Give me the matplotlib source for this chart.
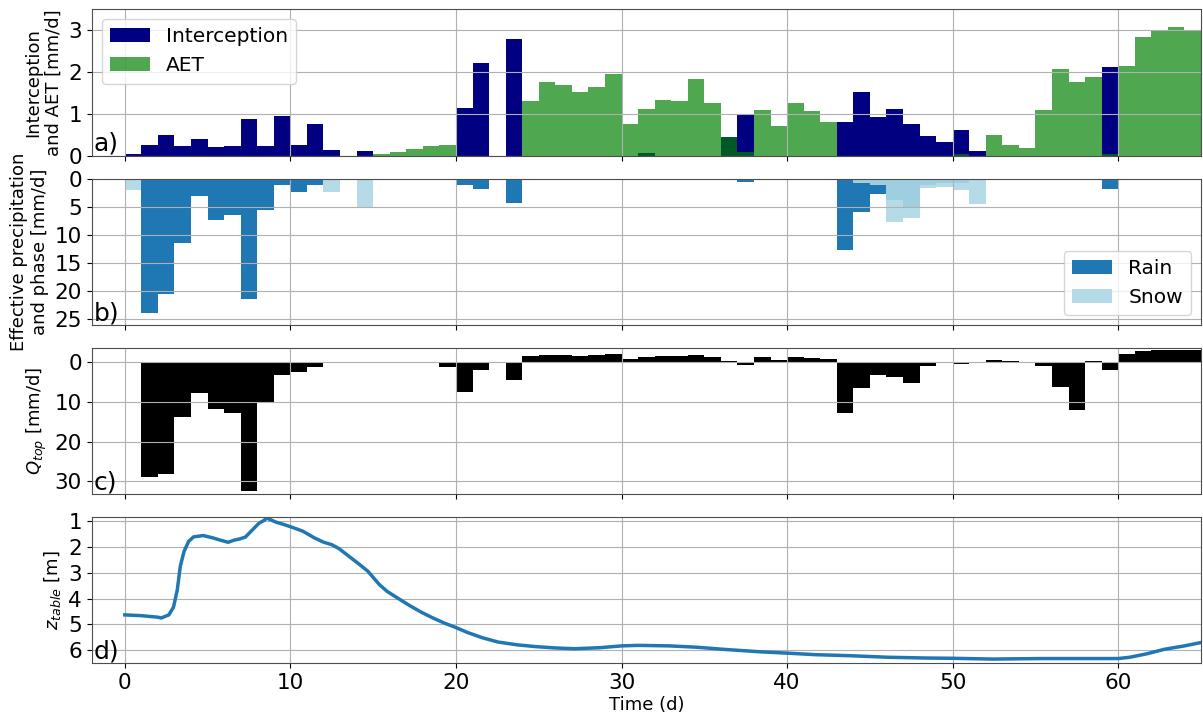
import numpy as np
import matplotlib
matplotlib.use("Agg")
import matplotlib.pyplot as plt

# daily values, day i covers [i, i+1)
days = np.arange(65)

interception = [0.05, 0.26, 0.49, 0.24, 0.41, 0.22, 0.23, 0.88, 0.23, 0.94,
                0.26, 0.77, 0.13, 0.0, 0.12, 0.0, 0.0, 0.0, 0.0, 0.0,
                1.14, 2.22, 0.0, 2.79, 0.0, 0.0, 0.0, 0.0, 0.0, 0.0,
                0.0, 0.06, 0.0, 0.0, 0.0, 0.0, 0.46, 1.0, 0.0, 0.0,
                0.0, 0.0, 0.0, 0.81, 1.52, 0.93, 1.12, 0.75, 0.47, 0.34,
                0.61, 0.12, 0.0, 0.0, 0.0, 0.0, 0.0, 0.0, 0.0, 2.13,
                0.0, 0.0, 0.0, 0.0, 0.0]

aet = [0.0, 0.0, 0.0, 0.0, 0.0, 0.0, 0.0, 0.0, 0.0, 0.0,
       0.0, 0.0, 0.0, 0.0, 0.0, 0.05, 0.08, 0.17, 0.24, 0.26,
       0.0, 0.0, 0.0, 0.0, 1.32, 1.77, 1.70, 1.53, 1.64, 1.95,
       0.77, 1.11, 1.34, 1.32, 1.83, 1.26, 0.44, 0.10, 1.09, 0.72,
       1.26, 1.07, 0.81, 0.0, 0.0, 0.0, 0.0, 0.0, 0.0, 0.0,
       0.05, 0.0, 0.49, 0.26, 0.18, 1.09, 2.08, 1.77, 1.89, 0.05,
       2.15, 2.83, 2.99, 3.08, 2.99]

rain = [0.0, 23.9, 20.6, 11.5, 3.0, 7.4, 6.4, 21.5, 5.6, 1.2,
        2.4, 1.1, 0.0, 0.0, 0.0, 0.0, 0.0, 0.0, 0.0, 0.0,
        1.2, 1.85, 0.0, 4.4, 0.0, 0.0, 0.0, 0.0, 0.0, 0.0,
        0.0, 0.0, 0.0, 0.0, 0.0, 0.0, 0.25, 0.6, 0.0, 0.0,
        0.0, 0.0, 0.0, 12.7, 5.9, 2.7, 3.8, 5.0, 1.2, 0.7,
        0.7, 0.0, 0.0, 0.0, 0.0, 0.0, 0.0, 0.0, 0.0, 1.8,
        0.0, 0.0, 0.0, 0.0, 0.0]

snow = [2.0, 0.0, 0.0, 0.3, 0.0, 0.0, 0.0, 0.0, 0.0, 0.0,
        0.0, 0.0, 2.3, 0.0, 5.3, 0.0, 0.0, 0.0, 0.0, 0.0,
        0.0, 0.0, 0.0, 0.0, 0.0, 0.0, 0.0, 0.0, 0.0, 0.0,
        0.0, 0.0, 0.0, 0.0, 0.0, 0.0, 0.0, 0.0, 0.0, 0.0,
        0.0, 0.0, 0.0, 0.0, 0.7, 1.1, 7.7, 7.0, 1.7, 1.4,
        2.0, 4.5, 0.0, 0.0, 0.0, 0.0, 0.0, 0.0, 0.0, 0.0,
        0.0, 0.0, 0.0, 0.0, 0.0]

q_top = [0.1, 28.8, 28.2, 13.8, 7.7, 11.7, 12.7, 32.5, 10.3, 3.3,
         2.4, 1.1, 0.1, 0.05, 0.1, 0.05, -0.1, -0.15, -0.15, 1.26,
         7.5, 1.8, 0.0, 4.4, -1.5, -1.8, -1.8, -1.7, -1.8, -2.0,
         -0.75, -1.26, -1.6, -1.6, -1.9, -1.4, -0.25, 0.6, -1.26, -0.7,
         -1.4, -1.2, -0.85, 12.7, 6.4, 3.1, 3.6, 5.1, 0.9, 0.25,
         0.5, -0.1, -0.5, -0.25, -0.15, 0.9, 6.1, 11.9, -0.4, 1.8,
         -2.2, -2.85, -3.0, -3.2, -3.1]

# water table depth
zt_time = [0.0, 1.0, 2.0, 2.2, 2.66, 2.94, 3.17, 3.35, 3.58, 3.86, 4.16, 4.74,
           5.32, 5.78, 6.24, 6.59, 6.94, 7.28, 7.63, 8.09, 8.44, 8.6, 8.67, 9.13,
           9.6, 10.06, 10.75, 11.45, 12.02, 12.49, 12.95, 13.53, 14.1, 14.68,
           15.38, 15.84, 16.53, 17.23, 17.92, 18.61, 19.31, 20.0, 20.69, 21.62,
           22.54, 23.7, 24.86, 26.0, 27.17, 28.7, 30.0, 31.0, 32.9, 34.5, 36.3,
           38.4, 40.0, 41.7, 43.8, 46.1, 48.4, 50.0, 52.4, 55.4, 57.7, 60.0,
           60.7, 61.7, 62.8, 64.0, 65.0]
zt_depth = [4.63, 4.66, 4.72, 4.75, 4.63, 4.33, 3.66, 2.75, 2.17, 1.78, 1.61, 1.56,
            1.65, 1.74, 1.82, 1.74, 1.69, 1.62, 1.39, 1.09, 0.96, 0.87, 0.91, 1.04,
            1.13, 1.23, 1.39, 1.65, 1.82, 1.91, 2.07, 2.36, 2.64, 2.94,
            3.46, 3.72, 4.0, 4.28, 4.53, 4.75, 4.95, 5.12, 5.31, 5.52,
            5.68, 5.79, 5.86, 5.91, 5.94, 5.9, 5.83, 5.81, 5.83, 5.88, 5.97,
            6.06, 6.11, 6.17, 6.21, 6.27, 6.3, 6.31, 6.34, 6.32, 6.32, 6.32,
            6.27, 6.14, 5.96, 5.83, 5.7]

W, H = 1203, 719
fig = plt.figure(figsize=(W / 100, H / 100), dpi=100)

left = 91.7 / W
width = (1201 - 91.7) / W
tops = [9.3, 178.7, 347.7, 516.7]
hgt = 146.5
axes = []
for i, t in enumerate(tops):
    rect = [left, 1 - (t + hgt) / H, width, hgt / H]
    ax = fig.add_axes(rect, sharex=axes[0] if axes else None)
    axes.append(ax)
ax1, ax2, ax3, ax4 = axes

tick_fs = 15.5
lab_fs = 13
leg_fs = 14.5
let_fs = 18

# a) interception and AET
ax1.bar(days, interception, width=1, align="edge", color="navy",
        linewidth=0, label="Interception")
ax1.bar(days, aet, width=1, align="edge", color="green", alpha=0.69,
        linewidth=0, label="AET")
ax1.set_ylim(0, 3.5)
ax1.set_yticks([0, 1, 2, 3])
ax1.set_ylabel("Interception\nand AET [mm/d]", fontsize=lab_fs)
ax1.legend(loc="upper left", fontsize=leg_fs)

# b) rain and snow
ax2.bar(days, rain, width=1, align="edge", color="tab:blue", linewidth=0, label="Rain")
ax2.bar(days, snow, width=1, align="edge", color="lightblue", alpha=0.9,
        linewidth=0, label="Snow")
ax2.set_ylim(26.1, 0)
ax2.set_yticks([0, 5, 10, 15, 20, 25])
ax2.set_ylabel("Effective precipitation\nand phase [mm/d]", fontsize=lab_fs)
ax2.legend(loc="lower right", fontsize=leg_fs)

# c) top flux
ax3.bar(days, q_top, width=1, align="edge", color="black", linewidth=0)
ax3.set_ylim(33.2, -3.7)
ax3.set_yticks([0, 10, 20, 30])
ax3.set_ylabel("$Q_{top}$ [mm/d]", fontsize=lab_fs)

# d) water table
ax4.plot(zt_time, zt_depth, color="tab:blue", linewidth=2.5)
ax4.set_ylim(6.5, 0.83)
ax4.set_yticks([1, 2, 3, 4, 5, 6])
ax4.set_ylabel("$z_{table}$ [m]", fontsize=lab_fs)
ax4.set_xlabel("Time (d)", fontsize=lab_fs, labelpad=2)

ax4.set_xlim(-2, 65)
ax4.set_xticks([0, 10, 20, 30, 40, 50, 60])

for ax, letter in zip(axes, ["a)", "b)", "c)", "d)"]):
    ax.grid(True)
    ax.tick_params(labelsize=tick_fs)
    ax.text(0.002, 0.0, letter, transform=ax.transAxes, fontsize=let_fs,
            ha="left", va="bottom")
    for s in ax.spines.values():
        s.set_color("0.3")
for ax in axes[:3]:
    ax.tick_params(labelbottom=False)

fig.savefig("out.png", dpi=100)
